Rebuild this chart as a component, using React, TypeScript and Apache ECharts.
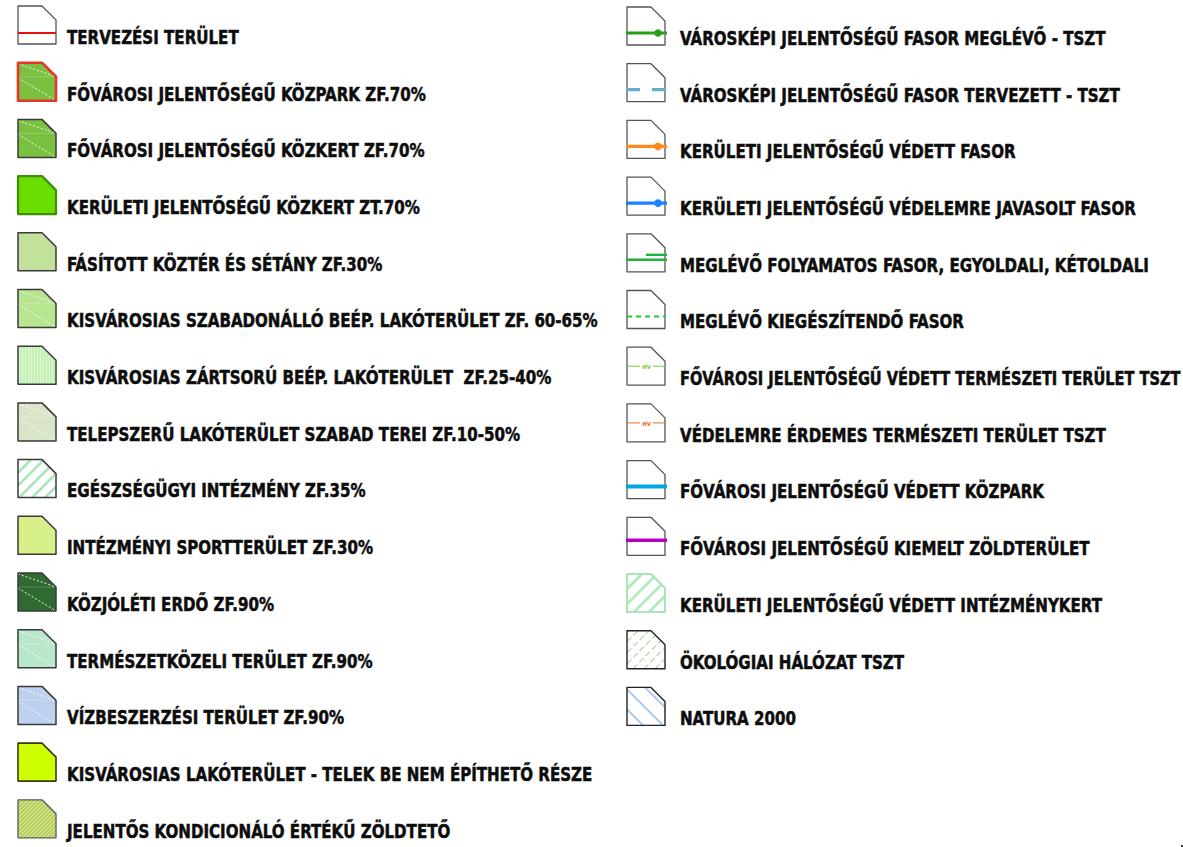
import React, { useEffect, useRef } from "react";
import * as echarts from "echarts";

const LEFT_LABELS = [
  "TERVEZÉSI TERÜLET",
  "FŐVÁROSI JELENTŐSÉGŰ KÖZPARK ZF.70%",
  "FŐVÁROSI JELENTŐSÉGŰ KÖZKERT ZF.70%",
  "KERÜLETI JELENTŐSÉGŰ KÖZKERT ZT.70%",
  "FÁSÍTOTT KÖZTÉR ÉS SÉTÁNY ZF.30%",
  "KISVÁROSIAS SZABADONÁLLÓ BEÉP. LAKÓTERÜLET ZF. 60-65%",
  "KISVÁROSIAS ZÁRTSORÚ BEÉP. LAKÓTERÜLET  ZF.25-40%",
  "TELEPSZERŰ LAKÓTERÜLET SZABAD TEREI ZF.10-50%",
  "EGÉSZSÉGÜGYI INTÉZMÉNY ZF.35%",
  "INTÉZMÉNYI SPORTTERÜLET ZF.30%",
  "KÖZJÓLÉTI ERDŐ ZF.90%",
  "TERMÉSZETKÖZELI TERÜLET ZF.90%",
  "VÍZBESZERZÉSI TERÜLET ZF.90%",
  "KISVÁROSIAS LAKÓTERÜLET - TELEK BE NEM ÉPÍTHETŐ RÉSZE",
  "JELENTŐS KONDICIONÁLÓ ÉRTÉKŰ ZÖLDTETŐ",
];

const RIGHT_LABELS = [
  "VÁROSKÉPI JELENTŐSÉGŰ FASOR MEGLÉVŐ - TSZT",
  "VÁROSKÉPI JELENTŐSÉGŰ FASOR TERVEZETT - TSZT",
  "KERÜLETI JELENTŐSÉGŰ VÉDETT FASOR",
  "KERÜLETI JELENTŐSÉGŰ VÉDELEMRE JAVASOLT FASOR",
  "MEGLÉVŐ FOLYAMATOS FASOR, EGYOLDALI, KÉTOLDALI",
  "MEGLÉVŐ KIEGÉSZÍTENDŐ FASOR",
  "FŐVÁROSI JELENTŐSÉGŰ VÉDETT TERMÉSZETI TERÜLET TSZT",
  "VÉDELEMRE ÉRDEMES TERMÉSZETI TERÜLET TSZT",
  "FŐVÁROSI JELENTŐSÉGŰ VÉDETT KÖZPARK",
  "FŐVÁROSI JELENTŐSÉGŰ KIEMELT ZÖLDTERÜLET",
  "KERÜLETI JELENTŐSÉGŰ VÉDETT INTÉZMÉNYKERT",
  "ÖKOLÓGIAI HÁLÓZAT TSZT",
  "NATURA 2000",
];

const HV_TEXT = "HV";

// ---- symbol styles (not data) ----
type Pattern =
  | { type: "white" }
  | { type: "diag"; dir: "up" | "down"; spacing: number; color: string; width: number; dash?: number[] }
  | { type: "vert"; spacing: number; color: string; width: number };

type Spec = {
  fill: string;
  border: string;
  borderWidth: number;
  pattern?: Pattern;
  lines?: { color: string; width: number; relY: number; x0: number; x1: number; dash?: number[] }[];
  dot?: { color: string; relX: number; relY: number; r: number };
  hv?: string;
};

const GRAY = "#3a3a3a";
const white: Pattern = { type: "white" };

const LEFT_SPECS: Spec[] = [
  { fill: "#ffffff", border: "#555555", borderWidth: 1.3, lines: [{ color: "#e81010", width: 2, relY: 27, x0: 0, x1: 38 }] },
  { fill: "#7ac142", border: "#e8352a", borderWidth: 2.6, pattern: white },
  { fill: "#7ac142", border: GRAY, borderWidth: 1.5, pattern: white },
  { fill: "#6ade00", border: "#3f8f05", borderWidth: 2.2 },
  { fill: "#c2e29c", border: GRAY, borderWidth: 1.5 },
  { fill: "#b8e590", border: GRAY, borderWidth: 1.5, pattern: white },
  { fill: "#c6efb6", border: GRAY, borderWidth: 1.5, pattern: { type: "vert", spacing: 3, color: "#dcf8d2", width: 1 } },
  { fill: "#d9e5c8", border: GRAY, borderWidth: 1.5, pattern: white },
  { fill: "#ffffff", border: GRAY, borderWidth: 1.5, pattern: { type: "diag", dir: "up", spacing: 13, color: "#a6e4b6", width: 2.6 } },
  { fill: "#d8f08a", border: GRAY, borderWidth: 1.5 },
  { fill: "#2f6a33", border: GRAY, borderWidth: 1.5, pattern: white },
  { fill: "#b9e7cb", border: GRAY, borderWidth: 1.5, pattern: white },
  { fill: "#bdd0ee", border: GRAY, borderWidth: 1.5, pattern: white },
  { fill: "#ccff00", border: "#3a3a10", borderWidth: 1.6 },
  { fill: "#cde47f", border: "#5a5a5a", borderWidth: 1.3, pattern: { type: "diag", dir: "up", spacing: 4, color: "#93ad3e", width: 0.9 } },
];

const LINE_BORDER = "#555555";
const RIGHT_SPECS: Spec[] = [
  { fill: "#fff", border: LINE_BORDER, borderWidth: 1.3, lines: [{ color: "#2a9e1c", width: 3.2, relY: 26, x0: -1, x1: 40 }], dot: { color: "#2a9e1c", relX: 31, relY: 26, r: 3.8 } },
  { fill: "#fff", border: LINE_BORDER, borderWidth: 1.3, lines: [{ color: "#6badc9", width: 3.2, relY: 26, x0: -1, x1: 40, dash: [14, 12] }] },
  { fill: "#fff", border: LINE_BORDER, borderWidth: 1.3, lines: [{ color: "#ff8a1c", width: 3.2, relY: 26, x0: -1, x1: 40 }], dot: { color: "#ff8a1c", relX: 31, relY: 26, r: 3.8 } },
  { fill: "#fff", border: LINE_BORDER, borderWidth: 1.3, lines: [{ color: "#1a80ff", width: 3.2, relY: 26, x0: -1, x1: 40 }], dot: { color: "#1a80ff", relX: 31, relY: 26, r: 3.8 } },
  { fill: "#fff", border: LINE_BORDER, borderWidth: 1.3, lines: [
    { color: "#1cb43a", width: 2.4, relY: 26, x0: -1, x1: 40 },
    { color: "#1cb43a", width: 2.4, relY: 21, x0: 19, x1: 40 },
  ] },
  { fill: "#fff", border: LINE_BORDER, borderWidth: 1.3, lines: [{ color: "#20cc30", width: 2.2, relY: 26, x0: 0, x1: 39, dash: [5, 4] }] },
  { fill: "#fff", border: LINE_BORDER, borderWidth: 1.3, lines: [
    { color: "#7acc3a", width: 1, relY: 19, x0: 0, x1: 13 },
    { color: "#7acc3a", width: 1, relY: 19, x0: 26, x1: 38 },
  ], hv: "#7acc3a" },
  { fill: "#fff", border: LINE_BORDER, borderWidth: 1.3, lines: [
    { color: "#e0701c", width: 1, relY: 19, x0: 0, x1: 13 },
    { color: "#e0701c", width: 1, relY: 19, x0: 26, x1: 38 },
  ], hv: "#e0701c" },
  { fill: "#fff", border: LINE_BORDER, borderWidth: 1.3, lines: [{ color: "#00a8e2", width: 4, relY: 26, x0: -1, x1: 40 }] },
  { fill: "#fff", border: LINE_BORDER, borderWidth: 1.3, lines: [{ color: "#b400c4", width: 3.4, relY: 23, x0: -1, x1: 40 }] },
  { fill: "#fff", border: "#a8e6b8", borderWidth: 2, pattern: { type: "diag", dir: "up", spacing: 15, color: "#b2eac0", width: 2.8 } },
  { fill: "#fff", border: "#222222", borderWidth: 1.4, pattern: { type: "diag", dir: "up", spacing: 11, color: "#84bb72", width: 1, dash: [6, 3] } },
  { fill: "#fff", border: "#222222", borderWidth: 1.4, pattern: { type: "diag", dir: "down", spacing: 20, color: "#a6c8ec", width: 2 } },
];

// ---- layout ----
const S = 38;
const C = 14;
const ROW = 56.7;
const LEFT_X = 18;
const LEFT_BASE = 44;
const LEFT_TEXT_X = 67;
const RIGHT_X = 627;
const RIGHT_BASE = 45;
const RIGHT_TEXT_X = 680;
const PAGE_W = 1183;
const FONT_SIZE = 19;
const FONT_FAMILY = '"DejaVu Sans Condensed", "DejaVu Sans", sans-serif';

type P = [number, number];

function shapePoints(x: number, y: number): P[] {
  return [[x, y], [x + S - C, y], [x + S, y + C], [x + S, y + S], [x, y + S]];
}

function clip(p0: P, p1: P, poly: P[]): [P, P] | null {
  let t0 = 0, t1 = 1;
  const dx = p1[0] - p0[0], dy = p1[1] - p0[1];
  const cx = poly.reduce((s, p) => s + p[0], 0) / poly.length;
  const cy = poly.reduce((s, p) => s + p[1], 0) / poly.length;
  for (let i = 0; i < poly.length; i++) {
    const a = poly[i], b = poly[(i + 1) % poly.length];
    const ex = b[0] - a[0], ey = b[1] - a[1];
    const f = (px: number, py: number) => ex * (py - a[1]) - ey * (px - a[0]);
    const s = Math.sign(f(cx, cy));
    const f0 = s * f(p0[0], p0[1]);
    const fd = s * (ex * dy - ey * dx);
    if (fd === 0) {
      if (f0 < 0) return null;
      continue;
    }
    const tc = -f0 / fd;
    if (fd > 0) t0 = Math.max(t0, tc);
    else t1 = Math.min(t1, tc);
    if (t0 > t1) return null;
  }
  return [[p0[0] + t0 * dx, p0[1] + t0 * dy], [p0[0] + t1 * dx, p0[1] + t1 * dy]];
}

function seg(p: [P, P] | null, style: any, z = 2): any[] {
  if (!p) return [];
  return [{ type: "line", z, silent: true, shape: { x1: p[0][0], y1: p[0][1], x2: p[1][0], y2: p[1][1] }, style }];
}

function iconElements(x: number, y: number, spec: Spec): any[] {
  const pts = shapePoints(x, y);
  const els: any[] = [];
  els.push({ type: "polygon", z: 1, silent: true, shape: { points: pts }, style: { fill: spec.fill, stroke: "none" } });
  const pat = spec.pattern;
  if (pat) {
    if (pat.type === "white") {
      const st = { stroke: "#ffffff", lineWidth: 1, lineDash: [2, 2], opacity: 0.9 };
      els.push(...seg(clip([x, y + 1], [x + S, y + C], pts), st));
      els.push(...seg(clip([x, y + 15], [x + S, y + S], pts), st));
      els.push(...seg(clip([x, y + C], [x + S, y + C], pts), { stroke: "#ffffff", lineWidth: 0.8, opacity: 0.25 }));
    } else if (pat.type === "diag") {
      const st: any = { stroke: pat.color, lineWidth: pat.width };
      if (pat.dash) st.lineDash = pat.dash;
      if (pat.dir === "up") {
        for (let c = x + y; c <= x + y + 2 * S + pat.spacing; c += pat.spacing) {
          const yb = y + S + 10, yt = y - 10;
          els.push(...seg(clip([c - yb, yb], [c - yt, yt], pts), st));
        }
      } else {
        for (let c = x - y - S - 4; c <= x - y + S + pat.spacing; c += pat.spacing) {
          const yt = y - 10, yb = y + S + 10;
          els.push(...seg(clip([c + yt, yt], [c + yb, yb], pts), st));
        }
      }
    } else if (pat.type === "vert") {
      const st = { stroke: pat.color, lineWidth: pat.width };
      for (let c = x + 1.5; c < x + S; c += pat.spacing) {
        els.push(...seg(clip([c, y - 5], [c, y + S + 5], pts), st));
      }
    }
  }
  els.push({
    type: "polygon", z: 3, silent: true, shape: { points: pts },
    style: { fill: "none", stroke: spec.border, lineWidth: spec.borderWidth, lineJoin: "round" },
  });
  (spec.lines || []).forEach((l) => {
    const st: any = { stroke: l.color, lineWidth: l.width };
    if (l.dash) st.lineDash = l.dash;
    els.push({ type: "line", z: 4, silent: true, shape: { x1: x + l.x0, y1: y + l.relY, x2: x + l.x1, y2: y + l.relY }, style: st });
  });
  if (spec.dot) {
    els.push({ type: "circle", z: 5, silent: true, shape: { cx: x + spec.dot.relX, cy: y + spec.dot.relY, r: spec.dot.r }, style: { fill: spec.dot.color } });
  }
  if (spec.hv) {
    els.push({
      type: "text", z: 5, silent: true, x: x + 19.5, y: y + 19.5,
      style: { text: HV_TEXT, fontSize: 6, fontFamily: FONT_FAMILY, fontWeight: "bold", fill: spec.hv, align: "center", verticalAlign: "middle" },
    });
  }
  return els;
}

export default function App() {
  const ref = useRef<HTMLDivElement>(null);
  useEffect(() => {
    if (!ref.current) return;
    const chart = echarts.init(ref.current, undefined, { renderer: "svg" });

    const ctx = document.createElement("canvas").getContext("2d")!;
    ctx.font = `bold ${FONT_SIZE}px ${FONT_FAMILY}`;
    const w = ctx.measureText(LEFT_LABELS[5]).width;
    const baseScale = w > 0 ? 531 / w : 1;

    const textEl = (x: number, base: number, text: string) => {
      const tw = ctx.measureText(text).width;
      const avail = PAGE_W - x - 2;
      const scaleX = tw * baseScale > avail ? avail / tw : baseScale;
      return {
        type: "text", z: 6, silent: true, x, y: base - 7, scaleX,
        style: {
          text, fontSize: FONT_SIZE, fontFamily: FONT_FAMILY, fontWeight: "bold",
          fill: "#0d0d0d", align: "left", verticalAlign: "middle",
          stroke: "#0d0d0d", lineWidth: 0.5,
        },
      };
    };

    const elements: any[] = [];
    LEFT_LABELS.forEach((label, i) => {
      const base = LEFT_BASE + i * ROW;
      elements.push(...iconElements(LEFT_X, base - S, LEFT_SPECS[i]));
      elements.push(textEl(LEFT_TEXT_X, base, label));
    });
    RIGHT_LABELS.forEach((label, i) => {
      const base = RIGHT_BASE + i * ROW;
      elements.push(...iconElements(RIGHT_X, base - S, RIGHT_SPECS[i]));
      elements.push(textEl(RIGHT_TEXT_X, base, label));
    });
    elements.push({ type: "rect", z: 6, silent: true, shape: { x: 1181, y: 845, width: 2, height: 2 }, style: { fill: "#333" } });

    chart.setOption({
      animation: false,
      backgroundColor: "#ffffff",
      graphic: { elements },
    });
    return () => chart.dispose();
  }, []);
  return <div ref={ref} style={{ position: "absolute", left: 0, top: 0, width: 1183, height: 847 }} />;
}
